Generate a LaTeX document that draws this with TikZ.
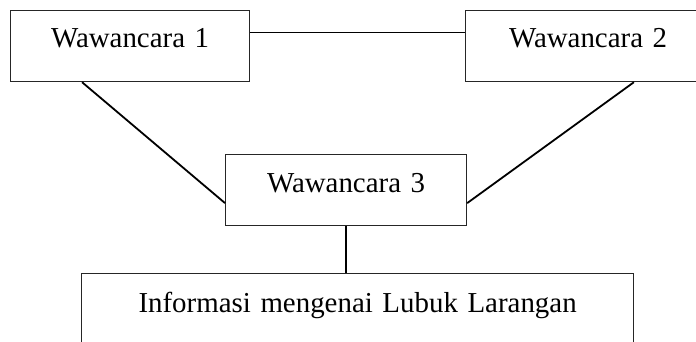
\documentclass[tikz,border=0pt]{standalone}
\usepackage{fontspec}
\setmainfont{Liberation Serif}
\usetikzlibrary{calc}
\begin{document}
\begin{tikzpicture}[x=1pt,y=-1pt,
  box/.style={draw=black!85, line width=1.2pt, anchor=north west, inner sep=0pt,
    align=center, font=\fontsize{28.9}{30}\selectfont},
  conn/.style={draw=black, line width=1.8pt}]
\useasboundingbox (0,0) rectangle (696,342);
\clip (0,0) rectangle (696,342);
\fill[white] (0,0) rectangle (696,342);
\node[box, text width=239pt, text height=37pt, text depth=34pt] (w1) at (10,10) {Wawancara 1};
\node[box, text width=245pt, text height=37pt, text depth=34pt] (w2) at (465,10) {Wawancara 2};
\node[box, text width=241pt, text height=38pt, text depth=33pt] (w3) at (225,154) {Wawancara 3};
\node[box, text width=552pt, text height=39pt, text depth=45pt] (info) at (81,273) {Informasi mengenai Lubuk Larangan};
\draw[conn] (w1.east |- 0,32.5) -- (w2.west |- 0,32.5);
\draw[conn] ($(w1.south west)!0.3!(w1.south east)$) -- ($(w3.north west)!0.68!(w3.south west)$);
\draw[conn] ($(w2.south west)!0.686!(w2.south east)$) -- ($(w3.north east)!0.68!(w3.south east)$);
\draw[conn] (w3.south) -- (w3.south |- info.north);
\end{tikzpicture}
\end{document}
